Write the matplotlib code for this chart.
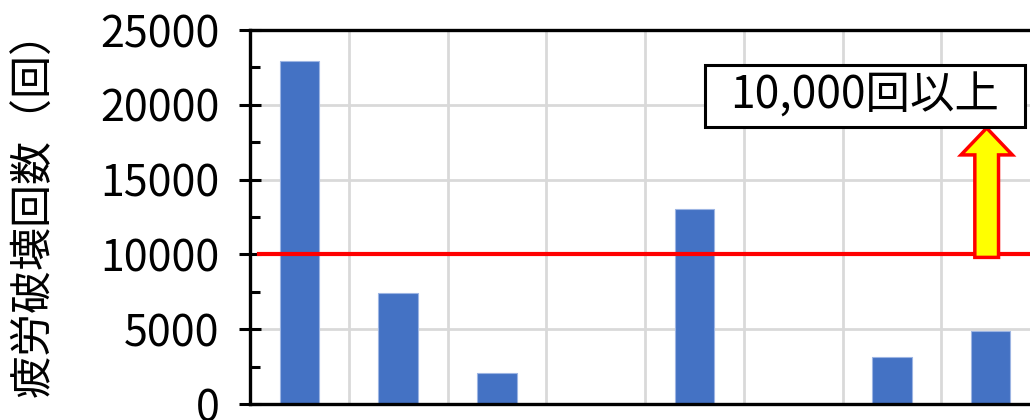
import numpy as np
import matplotlib
matplotlib.use("Agg")
import matplotlib.pyplot as plt
from matplotlib.patches import FancyArrow, Rectangle

plt.rcParams['font.family'] = ['Noto Sans CJK JP', 'DejaVu Sans']

# data (cases 4 and 6 have no bar)
cases = ['1', '2', '3', '4', '5', '6', '7', '8']
cycles = [22900, 7420, 2070, 0, 13050, 0, 3140, 4880]
limit = 10000
y_ticks = [0, 5000, 10000, 15000, 20000, 25000]
ylabel = '疲労破壊回数（回）'
note = '10,000回以上'

fig = plt.figure(figsize=(10.3, 4.2), dpi=100)
ax = fig.add_axes([250 / 1030, 16 / 420, 790 / 1030, 374 / 420])

x = np.arange(len(cases))
ax.bar(x, cycles, width=0.4, color='#4472C4', edgecolor='#9DB5E3', linewidth=0.8, zorder=2)

ax.set_xlim(-0.5, len(cases) - 0.5)
ax.set_ylim(0, 25000)
ax.set_yticks(y_ticks)
ax.set_yticks(np.arange(2500, 25000, 5000), minor=True)
ax.set_xticks(x)
ax.set_xticks(x[:-1] + 0.5, minor=True)
ax.tick_params(axis='x', which='both', length=0, labelbottom=False)
ax.tick_params(axis='y', which='major', direction='inout', length=16, width=2.2,
               labelsize=31, pad=14)
ax.tick_params(axis='y', which='minor', direction='in', length=7, width=2.2)

ax.set_axisbelow(True)
ax.grid(axis='y', which='major', color='#d9d9d9', lw=2)
ax.grid(axis='x', which='minor', color='#d9d9d9', lw=2)

for s in ['left', 'bottom', 'top']:
    ax.spines[s].set_linewidth(2.4)
ax.spines['right'].set_visible(False)

ax.set_ylabel(ylabel, fontsize=31)
ax.yaxis.set_label_coords(-0.245, 0.535)

# 10,000 line
ax.axhline(limit, xmin=0.012, color='red', lw=3, zorder=3)

# up arrow and note box
ax.add_patch(FancyArrow(6.96, 9800, 0, 8650, width=0.24, head_width=0.52,
                        head_length=1800, length_includes_head=True,
                        facecolor='yellow', edgecolor='red', lw=2.5, zorder=4))
ax.add_patch(Rectangle((4.105, 18520), 3.24, 4140, facecolor='white',
                       edgecolor='black', lw=2.2, zorder=4))
ax.text(5.72, 20590, note, fontsize=32, ha='center', va='center', zorder=5)

fig.savefig('out.png', dpi=100)
